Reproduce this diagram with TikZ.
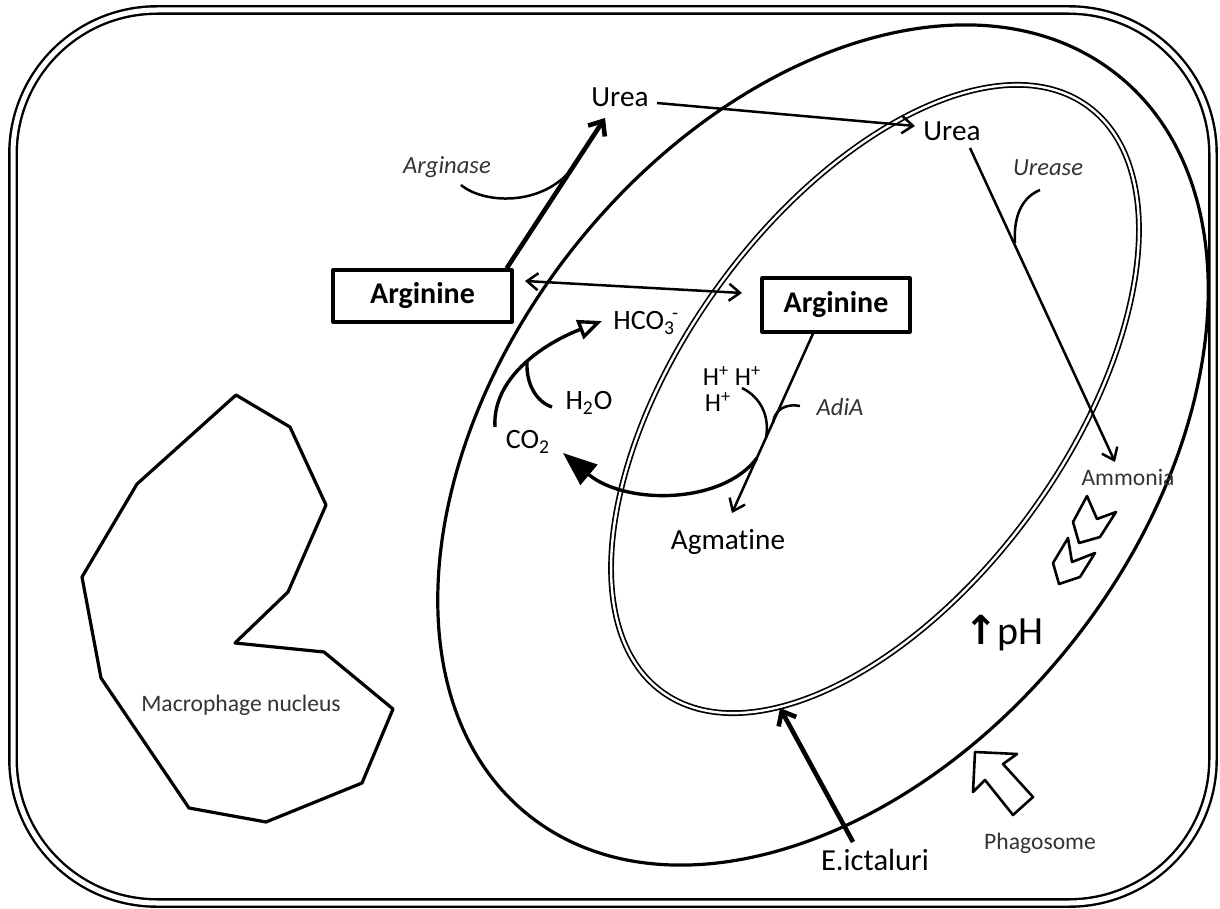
\documentclass[tikz,border=0pt]{standalone}
\usepackage{fontspec}
\setmainfont{Carlito}[Ligatures=NoCommon]
\newfontfamily\dejavu{DejaVu Sans}
\usetikzlibrary{arrows.meta}
\begin{document}
\begin{tikzpicture}[x=0.5pt,y=-0.5pt,line join=round,
  lbl/.style={inner sep=1pt,font=\fontsize{14.6}{17}\selectfont},
  chem/.style={inner sep=1pt,font=\fontsize{14}{16}\selectfont},
  hp/.style={inner sep=1pt,font=\fontsize{13}{13}\selectfont,align=center},
  enz/.style={inner sep=1pt,font=\fontsize{12.3}{15}\selectfont\itshape,text=black!80},
  small/.style={inner sep=1pt,font=\fontsize{11.8}{14}\selectfont,text=black!80},
  argbox/.style={draw,line width=1.6pt,font=\fontsize{15}{18}\selectfont\bfseries,inner sep=0pt},
  thinarr/.style={line width=1.25pt,-{Straight Barb[length=5.5pt,width=8.5pt]}},
  thickarr/.style={line width=2.3pt,-{Straight Barb[length=6pt,width=10pt]}},
  hook/.style={line width=1.25pt},
  outline/.style={line width=1.3pt,fill=white}]
\useasboundingbox (0,0) rectangle (1220,909);
% cell border
\draw[double,line width=1.2pt,double distance=2.5pt,rounded corners=72pt] (13,10) rectangle (1213,903);
% phagosome and bacterium
\draw[line width=1.6pt,rotate around={51.6:(823,445)}] (823,445) ellipse [x radius=473,y radius=318];
\draw[double,line width=0.85pt,double distance=1.2pt,rotate around={54:(875,399)}] (875,399) ellipse [x radius=362,y radius=193];
% nucleus
\draw[line width=1.6pt] (236,395) -- (290,427) -- (326,505) -- (288,592) -- (235,643) -- (324,652) -- (393,709) -- (362,783) -- (266,822) -- (189,808) -- (101,678) -- (82,577) -- (137,484) -- cycle;
\node[small] (nuclbl) at (241,705) {Macrophage nucleus};
% labels
\node[lbl] (urea1) at (620,97) {Urea};
\node[lbl] (urea2) at (952,131) {Urea};
\node[argbox,minimum width=89.5pt,minimum height=26pt] (arg1) at (422.5,296) {Arginine};
\node[argbox,minimum width=74pt,minimum height=27pt] (arg2) at (836,305) {Arginine};
\node[enz] (arginase) at (447,167) {Arginase};
\node[enz] (urease) at (1048,168) {Urease};
\node[enz] (adia) at (840,407) {AdiA};
\node[small] (ammonia) at (1128,477) {Ammonia};
\node[small] (phago) at (1040,843) {Phagosome};
\node[chem,anchor=west] (hco3) at (611,323) {HCO\textsubscript{3}\kern-1.5pt\textsuperscript{-}};
\node[chem] (h2o) at (589,403) {H\textsubscript{2}O};
\node[chem] (co2) at (528,442) {CO\textsubscript{2}};
\node[hp] (hp) at (732,389) {H\textsuperscript{+} H\textsuperscript{+}\\H\textsuperscript{+}\hspace*{14pt}};
\node[lbl] (agm) at (728,542) {Agmatine};
\node[inner sep=1pt,font=\fontsize{20}{22}\selectfont] (ph) at (1004,633) {{\dejavu\bfseries ↑}pH};
\node[lbl,font=\fontsize{15.3}{18}\selectfont] (ecoli) at (875,860) {E.ictaluri};
% coordinates
\coordinate (ureatip) at (605,118);
\coordinate (ureaout) at (657,103);
\coordinate (urea2in) at (915,126);
\coordinate (urea2out) at (970,148);
\coordinate (ammin) at (1115,462);
\coordinate (agmin) at (732,513);
\coordinate (ecolitip) at (780,708);
\coordinate (ecolistart) at (853,842);
\coordinate (arginasestart) at (461,185);
% arginase
\draw[thickarr] ([xshift=-3.5pt]arg1.north east) -- (ureatip);
\draw[hook] (arginasestart) .. controls (485,205) and (548,207) .. (577,162);
% urea transport
\draw[thinarr] (ureaout) -- (urea2in);
% urease
\draw[thinarr] (urea2out) -- (ammin);
\draw[hook] (1040,190) .. controls (1025,196) and (1013,212) .. (1015,243);
% arginine exchange
\draw[line width=1.25pt,{Straight Barb[length=5.5pt,width=8.5pt]}-{Straight Barb[length=5.5pt,width=8.5pt]}] (525,281) -- (742,293);
% AdiA
\draw[thinarr] ([xshift=-11.5pt]arg2.south) -- (agmin);
\draw[hook] (800,406) .. controls (786,403) and (774,410) .. (773,423);
\draw[hook] (742,388) .. controls (760,397) and (770,415) .. (766,438);
\draw[line width=1.7pt,-{Triangle[length=17pt,width=13pt]}] (757,458) .. controls (722,505) and (625,505) .. (563,453);
% carbonic
\draw[line width=1.7pt,-{Triangle[open,length=12pt,width=10pt]}] (495,427) .. controls (492,380) and (540,345) .. (602,321);
\draw[line width=1.7pt] (552,407) .. controls (537,402) and (526,385) .. (527,362);
% ammonia chevrons
\draw[outline] (1087,496) -- (1097,519) -- (1116,512) -- (1100,537) -- (1079,543) -- (1073,522) -- cycle;
\draw[outline] (1068,538) -- (1072,562) -- (1095,553) -- (1080,577) -- (1059,584) -- (1053,563) -- cycle;
% E. ictaluri pointer
\draw[thickarr] (ecolistart) -- (ecolitip);
% phagosome block arrow
\draw[outline] (975,752) -- (1017,754) -- (1003,764) -- (1033,797) -- (1013,815) -- (985,780) -- (973,792) -- cycle;
\end{tikzpicture}
\end{document}
